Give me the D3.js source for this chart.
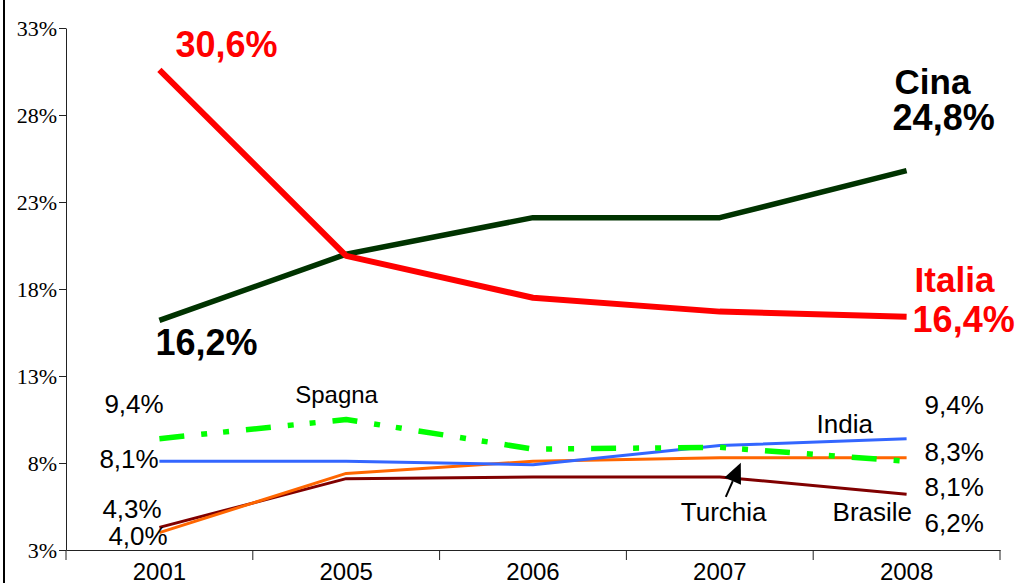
<!DOCTYPE html>
<html>
<head>
<meta charset="utf-8">
<script src="https://cdn.jsdelivr.net/npm/d3@7"></script>
<style>
  body { margin: 0; background: #fff; }
  svg { display: block; }
</style>
</head>
<body>
<div class="chart-container"></div>
<script>
// quote di mercato per paese, 2001-2008
const years = ["2001", "2005", "2006", "2007", "2008"];
const italia  = [30.6, 19.9, 17.5, 16.7, 16.4];
const cina    = [16.2, 20.0, 22.1, 22.1, 24.8];
const spagna  = [9.4, 10.5, 8.8, 8.9, 8.1];
const india   = [8.1, 8.1, 7.9, 9.0, 9.4];
const turchia = [4.0, 7.4, 8.1, 8.3, 8.3];
const brasile = [4.3, 7.1, 7.2, 7.2, 6.2];
const yTicks  = [3, 8, 13, 18, 23, 28, 33];

const width = 1019, height = 583;
const plotLeft = 66, plotRight = 1000, plotTop = 28, plotBottom = 550;

const svg = d3.select(".chart-container").append("svg")
    .attr("width", width)
    .attr("height", height);

// left frame line
svg.append("line")
    .attr("x1", 4).attr("x2", 4)
    .attr("y1", 0).attr("y2", height)
    .attr("stroke", "#000").attr("stroke-width", 2);

const x = d3.scaleBand().domain(years).range([plotLeft, plotRight]).padding(0);
const y = d3.scaleLinear().domain([3, 33]).range([plotBottom, plotTop]);
const cx = d => x(d) + x.bandwidth() / 2;

const fmt = v => d3.format(".1f")(v).replace(".", ",") + "%";

// y axis
const yAxis = svg.append("g")
    .attr("transform", "translate(" + plotLeft + ",0)")
    .call(d3.axisLeft(y).tickValues(yTicks).tickSize(7).tickSizeOuter(0).tickPadding(2)
        .tickFormat(d => d + "%"));
yAxis.selectAll("text")
    .style("font-family", "'Liberation Serif', 'Times New Roman', serif")
    .style("font-size", "22px")
    .attr("fill", "#000");
yAxis.selectAll("line, path").attr("stroke", "#222");

// x axis, ticks between the categories
const xAxis = svg.append("g")
    .attr("transform", "translate(0," + plotBottom + ")")
    .call(d3.axisBottom(x).tickSize(0).tickSizeOuter(0).tickPadding(13));
xAxis.selectAll("text")
    .style("font-family", "'Liberation Sans', Arial, sans-serif")
    .style("font-size", "24px")
    .attr("fill", "#000");
xAxis.select("path").attr("stroke", "#222");
xAxis.selectAll(".sep")
    .data(d3.range(years.length + 1))
    .enter().append("line")
    .attr("class", "sep")
    .attr("x1", i => plotLeft + i * x.step())
    .attr("x2", i => plotLeft + i * x.step())
    .attr("y1", 0).attr("y2", 10)
    .attr("stroke", "#222");

const line = d3.line()
    .x((d, i) => cx(years[i]))
    .y(d => y(d));

const series = [
    {name: "Brasile", values: brasile, color: "#800000", w: 3},
    {name: "Turchia", values: turchia, color: "#ff6600", w: 3},
    {name: "India",   values: india,   color: "#3366ff", w: 3},
    {name: "Spagna",  values: spagna,  color: "#00ff00", w: 5.5, dash: "25,17,6,16,6,17"},
    {name: "Cina",    values: cina,    color: "#003300", w: 5.5},
    {name: "Italia",  values: italia,  color: "#ff0000", w: 6}
];

svg.selectAll(".serie")
    .data(series)
    .enter().append("path")
    .attr("class", "serie")
    .attr("d", d => line(d.values))
    .attr("fill", "none")
    .attr("stroke", d => d.color)
    .attr("stroke-width", d => d.w)
    .attr("stroke-dasharray", d => d.dash || null)
    .attr("stroke-linejoin", "round");

// labels
const sans = "'Liberation Sans', Arial, sans-serif";
function label(tx, ty, text, size, color, bold) {
    svg.append("text")
        .attr("x", tx).attr("y", ty)
        .text(text)
        .style("font-family", sans)
        .style("font-size", size + "px")
        .style("font-weight", bold ? "bold" : "normal")
        .attr("fill", color);
}
const x0 = cx(years[0]), x1 = cx(years[years.length - 1]);
const last = a => a[a.length - 1];

// big labels
label(x0 + 16, y(italia[0]) - 13, fmt(italia[0]), 36, "#ff0000", true);
label(x0 - 4, y(cina[0]) + 35, fmt(cina[0]), 36, "#000", true);
label(x1 - 12, y(last(cina)) - 77, "Cina", 35, "#000", true);
label(x1 - 14, y(last(cina)) - 41, fmt(last(cina)), 36, "#000", true);
label(x1 + 8, y(last(italia)) - 25, "Italia", 35, "#ff0000", true);
label(x1 + 6, y(last(italia)) + 15, fmt(last(italia)), 36, "#ff0000", true);

// small labels, left side
label(x0 - 55, y(spagna[0]) - 26, fmt(spagna[0]), 26, "#000");
label(x0 - 60, y(india[0]) + 7, fmt(india[0]), 26, "#000");
label(x0 - 57, y(brasile[0]) - 9, fmt(brasile[0]), 26, "#000");
label(x0 - 51, y(turchia[0]) + 12, fmt(turchia[0]), 26, "#000");

// small labels, right side
const rx = x1 + 18;
label(rx, y(last(india)) - 25, fmt(last(india)), 26, "#000");
label(rx, y(last(turchia)) + 3, fmt(last(turchia)), 26, "#000");
label(rx, y(last(spagna)) + 35, fmt(last(spagna)), 26, "#000");
label(rx, y(last(brasile)) + 38, fmt(last(brasile)), 26, "#000");

// series names
label(cx(years[1]) - 51, y(spagna[1]) - 17, "Spagna", 24, "#000");
label(x1 - 90, y(last(india)) - 6, "India", 26, "#000");
label(x1 - 74, y(last(brasile)) + 27, "Brasile", 26, "#000");
label(cx(years[3]) - 39, y(brasile[3]) + 44, "Turchia", 26, "#000");

// arrow pointing to Turchia
const tip = [cx(years[3]) + 21, y(turchia[3]) + 5];
const tail = [tip[0] - 15, tip[1] + 34];
const len = Math.hypot(tip[0] - tail[0], tip[1] - tail[1]);
const ux = (tip[0] - tail[0]) / len, uy = (tip[1] - tail[1]) / len;
const headLen = 20, headHalf = 9;
const base = [tip[0] - ux * headLen, tip[1] - uy * headLen];
svg.append("line")
    .attr("x1", tail[0]).attr("y1", tail[1])
    .attr("x2", base[0]).attr("y2", base[1])
    .attr("stroke", "#000").attr("stroke-width", 2);
svg.append("path")
    .attr("d", d3.line()([
        tip,
        [base[0] - uy * headHalf, base[1] + ux * headHalf],
        [base[0] + uy * headHalf, base[1] - ux * headHalf]
    ]) + "Z")
    .attr("fill", "#000");
</script>
</body>
</html>
